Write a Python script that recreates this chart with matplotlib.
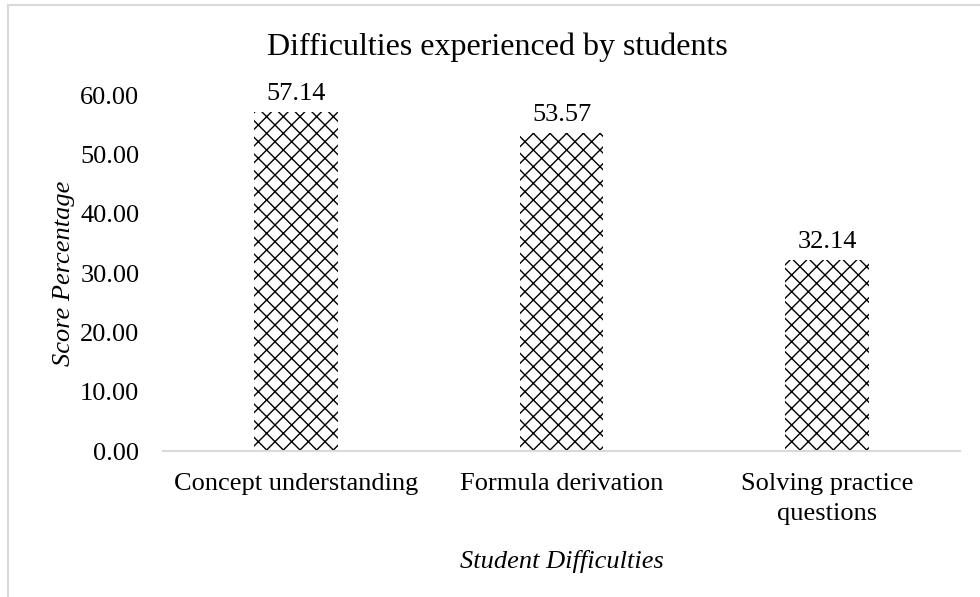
import matplotlib
matplotlib.use('Agg')
import matplotlib.pyplot as plt
from matplotlib.patches import Rectangle

categories = ['Concept understanding', 'Formula derivation', 'Solving practice\nquestions']
scores = [57.14, 53.57, 32.14]
yticks = [0, 10, 20, 30, 40, 50, 60]

plt.rcParams['font.family'] = ['Liberation Serif', 'DejaVu Serif']
plt.rcParams['hatch.linewidth'] = 1.0

fs = 19

fig = plt.figure(figsize=(9.8, 5.97), dpi=100)
# chart area border, light grey, cut off at right and bottom
fig.patches.append(Rectangle((8 / 980, -0.1), 1.2, 1.1 - 5 / 597, transform=fig.transFigure,
                             facecolor='none', edgecolor='#d9d9d9', linewidth=1.5))

ax = fig.add_axes([163 / 980, 1 - 451 / 597, (960 - 163) / 980, (451 - 95) / 597])

x = range(len(categories))
bars = ax.bar(x, scores, width=0.316, color='white', edgecolor='black', hatch='xx', linewidth=0)

for b, v in zip(bars, scores):
    ax.annotate(f'{v:.2f}', (b.get_x() + b.get_width() / 2, v), xytext=(0, 5),
                textcoords='offset points', ha='center', va='bottom', fontsize=fs)

ax.set_xlim(-0.5, len(categories) - 0.5)
ax.set_ylim(0, 60)
ax.set_yticks(yticks)
ax.set_yticklabels([f'{t:.2f}' for t in yticks])
ax.set_xticks(list(x))
ax.set_xticklabels(categories, linespacing=1.45)
ax.tick_params(axis='both', length=0, labelsize=fs)
ax.tick_params(axis='y', pad=17)
ax.tick_params(axis='x', pad=16)

for s in ['top', 'right', 'left']:
    ax.spines[s].set_visible(False)
ax.spines['bottom'].set_color('#d9d9d9')
ax.spines['bottom'].set_linewidth(1.5)

ax.set_ylabel('Score Percentage', fontsize=fs, style='italic', labelpad=4)
ax.set_xlabel('Student Difficulties', fontsize=fs, style='italic', labelpad=18)
fig.text(497 / 980, 1 - 55 / 597, 'Difficulties experienced by students', ha='center', va='baseline', fontsize=23)

fig.savefig('out.png', dpi=100)
